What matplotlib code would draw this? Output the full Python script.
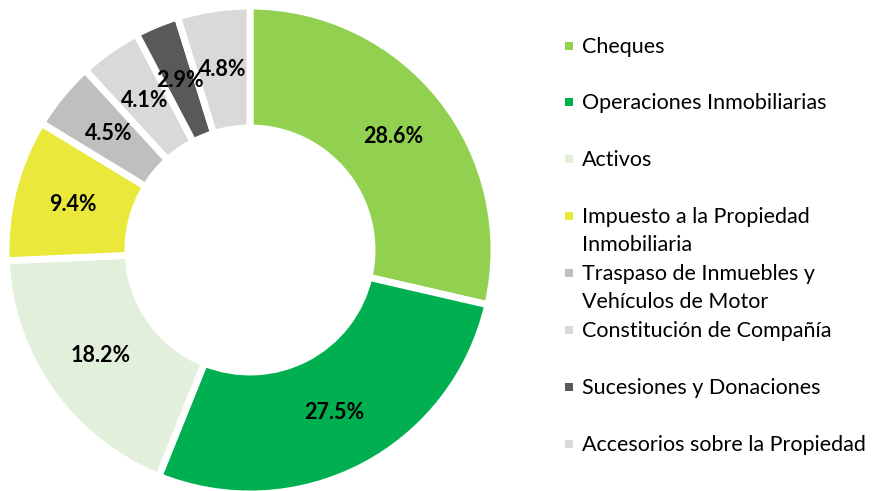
import matplotlib
matplotlib.use("Agg")
import matplotlib.pyplot as plt
from matplotlib.patches import Rectangle

plt.rcParams['font.family'] = ['Lato', 'DejaVu Sans']

# datos
categorias = ['Cheques', 'Operaciones Inmobiliarias', 'Activos',
              'Impuesto a la Propiedad\nInmobiliaria',
              'Traspaso de Inmuebles y\nVehículos de Motor',
              'Constitución de Compañía', 'Sucesiones y Donaciones',
              'Accesorios sobre la Propiedad']
valores = [28.6, 27.5, 18.2, 9.4, 4.5, 4.1, 2.9, 4.8]
colores = ['#92D050', '#00B050', '#E2EFDA', '#EBE83C',
           '#BFBFBF', '#D9D9D9', '#595959', '#D9D9D9']

W, H = 878, 491
fig = plt.figure(figsize=(W / 100, H / 100), dpi=100)

# dona centrada en (250, 250) px, radio ~242 px
r_px = 244
ax = fig.add_axes([(250 - r_px) / W, (H - 250 - r_px) / H, 2 * r_px / W, 2 * r_px / H])
wedges, textos, autotextos = ax.pie(
    valores, colors=colores, startangle=90, counterclock=False,
    radius=1.0, autopct='%1.1f%%', pctdistance=0.75,
    wedgeprops=dict(width=0.5, edgecolor='white', linewidth=5),
    textprops=dict(fontsize=15.5, fontweight='bold', color='black'))
ax.set_xlim(-1, 1)
ax.set_ylim(-1, 1)
ax.set_aspect('auto')
ax.axis('off')

# leyenda manual
y_filas = [46, 102, 159, 216, 273, 330, 387, 444]
for cat, col, yp in zip(categorias, colores, y_filas):
    fig.add_artist(Rectangle((565 / W, 1 - (yp + 4) / H), 8 / W, 8 / H,
                             transform=fig.transFigure, facecolor=col,
                             edgecolor='none'))
    fig.text(582 / W, 1 - (yp - 9) / H, cat, fontsize=15.5, color='#000000',
             va='top', ha='left', linespacing=1.5)

fig.savefig('out.png', dpi=100)
